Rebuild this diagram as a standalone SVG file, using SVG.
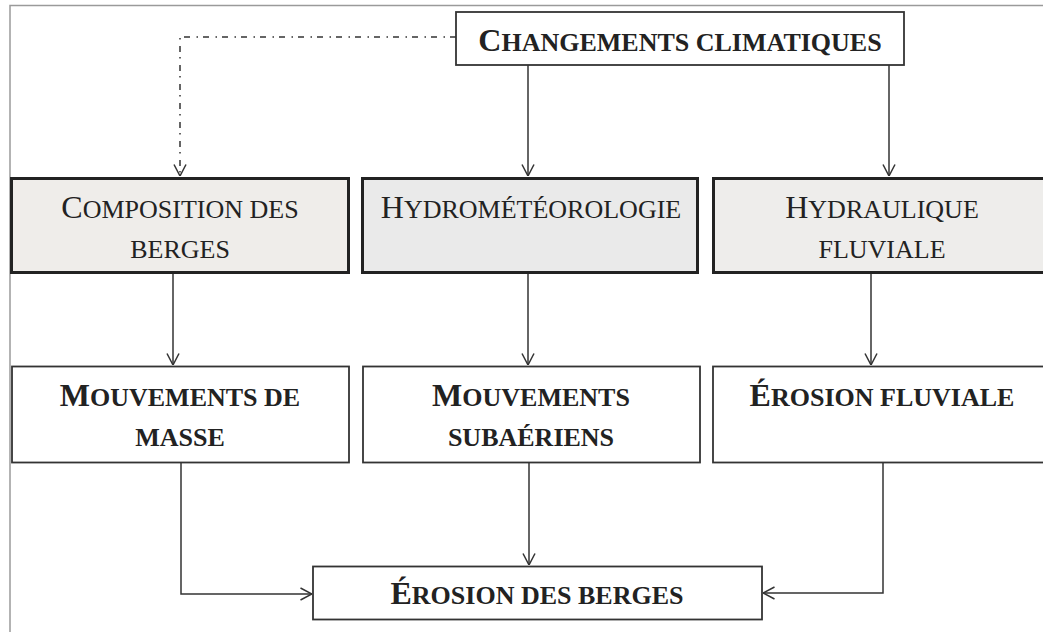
<svg xmlns="http://www.w3.org/2000/svg" width="1043" height="632" viewBox="0 0 1043 632">
  <style>
    .frame { fill: none; stroke: #9a9a9a; stroke-width: 1.5; }
    .box { fill: #ffffff; stroke: #333; stroke-width: 1.8; }
    .boxg { stroke: #222; stroke-width: 3; }
    .g1 { fill: #efedea; }
    .g2 { fill: #eaeaea; }
    .g3 { fill: #eeedeb; }
    .conn { fill: none; stroke: #333; stroke-width: 1.5; }
    .dd { stroke-dasharray: 6 5 1.5 6.5; }
    text { font-family: "Liberation Serif", "Times New Roman", serif; fill: #222; text-anchor: middle; }
    .b { font-weight: bold; }
    .big { font-size: 32px; }
    .sm { font-size: 26px; }
  </style>
  <defs>
    <marker id="arr" viewBox="0 0 12 14" refX="12" refY="7" markerWidth="12" markerHeight="14" markerUnits="userSpaceOnUse" orient="auto">
      <path d="M0.5,1 L12,7 L0.5,13" fill="none" stroke="#333" stroke-width="1.5"/>
    </marker>
  </defs>
  <rect width="1043" height="632" fill="#ffffff"/>
  <path class="frame" d="M10,632 V5.5 H1043"/>

  <g id="connectors">
    <path class="conn dd" d="M456,37 H180 V176" marker-end="url(#arr)"/>
    <path class="conn" d="M528,65 V176" marker-end="url(#arr)"/>
    <path class="conn" d="M889,65 V176" marker-end="url(#arr)"/>
    <path class="conn" d="M173,273 V365" marker-end="url(#arr)"/>
    <path class="conn" d="M528,273 V365" marker-end="url(#arr)"/>
    <path class="conn" d="M871,273 V365" marker-end="url(#arr)"/>
    <path class="conn" d="M181,463 V594 H312" marker-end="url(#arr)"/>
    <path class="conn" d="M529,463 V565" marker-end="url(#arr)"/>
    <path class="conn" d="M883,463 V593 H763" marker-end="url(#arr)"/>
  </g>

  <g id="changements">
    <rect class="box" x="456" y="12" width="448" height="53"/>
    <text class="b" x="680" y="51"><tspan class="big">C</tspan><tspan class="sm">HANGEMENTS CLIMATIQUES</tspan></text>
  </g>

  <g id="composition">
    <rect class="boxg g1" x="11.5" y="178.5" width="337" height="94"/>
    <text x="180" y="218"><tspan class="big">C</tspan><tspan class="sm">OMPOSITION DES</tspan></text>
    <text class="sm" x="180" y="258">BERGES</text>
  </g>

  <g id="hydrometeorologie">
    <rect class="boxg g2" x="362.5" y="178.5" width="335" height="94"/>
    <text x="531" y="218"><tspan class="big">H</tspan><tspan class="sm">YDROMÉTÉOROLOGIE</tspan></text>
  </g>

  <g id="hydraulique">
    <rect class="boxg g3" x="713.5" y="178.5" width="340" height="94"/>
    <text x="882" y="218"><tspan class="big">H</tspan><tspan class="sm">YDRAULIQUE</tspan></text>
    <text class="sm" x="882" y="258">FLUVIALE</text>
  </g>

  <g id="mouvements-masse">
    <rect class="box" x="12" y="366.5" width="337" height="96"/>
    <text class="b" x="180" y="406"><tspan class="big">M</tspan><tspan class="sm">OUVEMENTS DE</tspan></text>
    <text class="b sm" x="180" y="446">MASSE</text>
  </g>

  <g id="mouvements-subaeriens">
    <rect class="box" x="363" y="366.5" width="337" height="96"/>
    <text class="b" x="531" y="406"><tspan class="big">M</tspan><tspan class="sm">OUVEMENTS</tspan></text>
    <text class="b sm" x="531" y="446">SUBAÉRIENS</text>
  </g>

  <g id="erosion-fluviale">
    <rect class="box" x="713" y="366.5" width="340" height="96"/>
    <text class="b" x="882" y="406"><tspan class="big">É</tspan><tspan class="sm">ROSION FLUVIALE</tspan></text>
  </g>

  <g id="erosion-berges">
    <rect class="box" x="313" y="566.5" width="449" height="53"/>
    <text class="b" x="537" y="604"><tspan class="big">É</tspan><tspan class="sm">ROSION DES BERGES</tspan></text>
  </g>
</svg>
